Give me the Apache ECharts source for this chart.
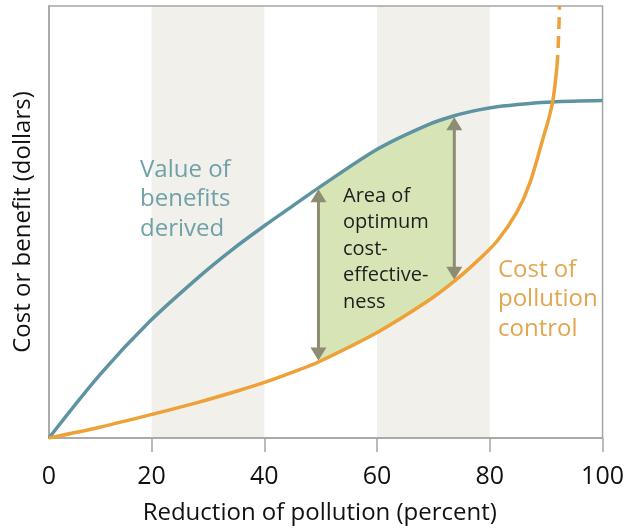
<!DOCTYPE html>
<html><head><meta charset="utf-8">
<script src="https://cdn.jsdelivr.net/npm/echarts@6/dist/echarts.min.js"></script>
<style>html,body{margin:0;padding:0;background:#fff}#c{width:627px;height:532px}</style>
</head><body><div id="c"></div>
<script>
// ---- data ----
const X_ORIGIN = 1.8;                       // x-value of the plot's corner (labelled "0")
const tickValues = [X_ORIGIN, 20, 40, 60, 80, 100];
const tickLabels = ['0', '20', '40', '60', '80', '100'];
const tickMarkValues = [20, 40, 60, 80, 100];
const bandRanges = [[20, 40], [60, 80]];
const benefitX = [1.8, 10.8, 19.6, 28.4, 34.2, 40.2, 46.0, 49.6, 60.1, 69.0, 73.7, 77.8, 81.3, 86.6, 91.0, 100];
const benefitY = [0, 14.6, 26.9, 37.3, 43.5, 49.3, 54.6, 57.9, 66.9, 72.5, 74.6, 75.9, 76.7, 77.4, 77.8, 78.1];
const costX = [1.8, 10.8, 19.9, 28.4, 35.5, 39.9, 46.0, 49.6, 60.1, 69.0, 73.7, 77.8, 81.3, 84.8, 87.1, 89.6, 90.5, 91.2, 91.6, 91.9];
const costY = [0, 2.5, 5.4, 8.3, 11.0, 12.8, 15.7, 17.6, 24.5, 31.7, 36.3, 41.0, 45.6, 52.3, 59.0, 70.1, 74.1, 78.2, 82.2, 85.9];
const costDashedX = [91.9, 92.1, 92.3, 92.35];
const costDashedY = [85.9, 89.8, 96.8, 100];
const optimumRange = [49.6, 73.7];
const arrowX = [49.6, 73.7];

const FONT = 'Open Sans';
const zip = (xs, ys) => xs.map((x, i) => [x, ys[i]]);
const valAt = (xs, ys, x) => ys[xs.indexOf(x)];

const chart = echarts.init(document.getElementById('c'));
chart.setOption({
  animation: false,
  backgroundColor: '#fff',
  grid: { left: 49, right: 21, top: 6, bottom: 94, show: true, borderColor: '#a5a5a5', borderWidth: 1.5, z: 1 },
  xAxis: {
    type: 'value', min: X_ORIGIN, max: 100, z: 1,
    name: 'Reduction of pollution (percent)', nameLocation: 'middle', nameGap: 63,
    nameTextStyle: { fontFamily: FONT, fontSize: 24, color: '#111', padding: [0, 12, 0, 0] },
    axisLine: { show: true, lineStyle: { color: '#a5a5a5', width: 1.5 } },
    axisTick: { show: true, customValues: tickMarkValues, length: 14, lineStyle: { color: '#a5a5a5', width: 1.5 } },
    axisLabel: {
      customValues: tickValues, margin: 26,
      formatter: v => tickLabels[tickValues.indexOf(v)],
      fontFamily: FONT, fontSize: 25, color: '#111'
    },
    splitLine: { show: false }
  },
  yAxis: {
    type: 'value', min: 0, max: 100, z: 1,
    name: 'Cost or benefit (dollars)', nameLocation: 'middle', nameGap: 14,
    nameTextStyle: { fontFamily: FONT, fontSize: 24, color: '#111' },
    axisLine: { show: true, lineStyle: { color: '#a5a5a5', width: 1.5 } },
    axisTick: { show: false }, axisLabel: { show: false }, splitLine: { show: false }
  },
  series: [
    { // shaded bands
      type: 'custom', z: 0, silent: true,
      data: bandRanges.map(r => [r[0], r[1]]),
      encode: { x: [0, 1] },
      renderItem: (p, api) => {
        const a = api.coord([api.value(0), 100]);
        const b = api.coord([api.value(1), 0]);
        return { type: 'rect', shape: { x: a[0], y: a[1], width: b[0] - a[0], height: b[1] - a[1] }, style: { fill: '#f2f0ea' } };
      }
    },
    { // optimum area between the curves
      type: 'custom', z: 3, silent: true,
      data: [[optimumRange[0], 0]],
      renderItem: (p, api) => {
        const top = [], bot = [];
        benefitX.forEach((x, i) => { if (x >= optimumRange[0] && x <= optimumRange[1]) top.push(api.coord([x, benefitY[i]])); });
        costX.forEach((x, i) => { if (x >= optimumRange[0] && x <= optimumRange[1]) bot.push(api.coord([x, costY[i]])); });
        return { type: 'polygon', shape: { points: top.concat(bot.reverse()) }, style: { fill: '#d7e4b6' } };
      }
    },
    { // double-headed arrows
      type: 'custom', z: 4, silent: true,
      data: arrowX.map(x => [x, valAt(benefitX, benefitY, x), valAt(costX, costY, x)]),
      renderItem: (p, api) => {
        const t = api.coord([api.value(0), api.value(1)]);
        const b = api.coord([api.value(0), api.value(2)]);
        const x = t[0], y1 = t[1] + 1.5, y2 = b[1] - 1.5, ah = 13, aw = 8, col = '#8e8c72';
        return { type: 'group', children: [
          { type: 'line', shape: { x1: x, y1: y1 + ah - 1, x2: x, y2: y2 - ah + 1 }, style: { stroke: col, lineWidth: 3 } },
          { type: 'polygon', shape: { points: [[x, y1], [x - aw, y1 + ah], [x + aw, y1 + ah]] }, style: { fill: col } },
          { type: 'polygon', shape: { points: [[x, y2], [x - aw, y2 - ah], [x + aw, y2 - ah]] }, style: { fill: col } }
        ] };
      }
    },
    {
      name: 'Value of benefits derived', type: 'line', z: 5, smooth: 0.3, showSymbol: false, silent: true,
      data: zip(benefitX, benefitY), lineStyle: { color: '#5e93a1', width: 3.5 }
    },
    {
      name: 'Cost of pollution control', type: 'line', z: 6, smooth: 0.3, showSymbol: false, silent: true,
      data: zip(costX, costY), lineStyle: { color: '#eda137', width: 3.5 }
    },
    {
      name: 'Cost (extrapolated)', type: 'line', z: 6, smooth: 0.3, showSymbol: false, silent: true,
      data: zip(costDashedX, costDashedY), lineStyle: { color: '#eda137', width: 3.5, type: [12, 7] }
    }
  ],
  graphic: [
    { type: 'text', left: 140, top: 155, z: 10, style: { text: 'Value of\nbenefits\nderived', font: '24px "Open Sans"', fill: '#6fa1a9', lineHeight: 29.5 } },
    { type: 'text', left: 343, top: 183, z: 10, style: { text: 'Area of\noptimum\ncost-\neffective-\nness', font: '20px "Open Sans"', fill: '#1e1e1e', lineHeight: 26.4 } },
    { type: 'text', left: 498, top: 255, z: 10, style: { text: 'Cost of\npollution\ncontrol', font: '24px "Open Sans"', fill: '#e3a650', lineHeight: 29.5 } }
  ]
});
</script></body></html>
